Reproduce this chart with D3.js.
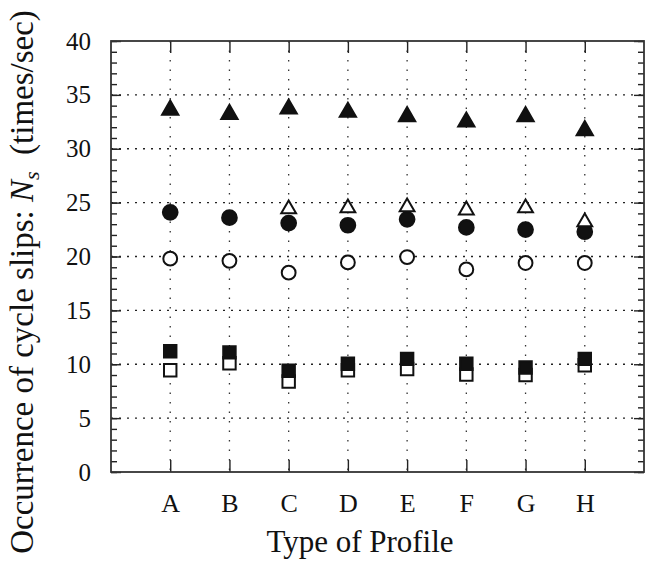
<!DOCTYPE html>
<html>
<head>
<meta charset="utf-8">
<script src="https://cdn.jsdelivr.net/npm/d3@7"></script>
<style>
  body { margin: 0; background: #fff; }
  svg { display: block; }
</style>
</head>
<body>
<div id="chart"></div>
<script>
// profiles along the x axis
const profiles = ["A", "B", "C", "D", "E", "F", "G", "H"];
const yTicks = [0, 5, 10, 15, 20, 25, 30, 35, 40];

// series (times/sec)
const filledTriangle = [33.6, 33.2, 33.7, 33.4, 33.0, 32.5, 33.0, 31.7];
const openTriangle   = [null, null, 24.4, 24.5, 24.6, 24.3, 24.5, 23.2];
const filledCircle   = [24.1, 23.6, 23.1, 22.9, 23.45, 22.7, 22.5, 22.3];
const openCircle     = [19.8, 19.6, 18.5, 19.45, 19.95, 18.8, 19.4, 19.4];
const openSquare     = [9.45, 10.1, 8.4, 9.45, 9.55, 9.05, 9.0, 9.9];
const filledSquare   = [11.2, 11.1, 9.4, 10.05, 10.5, 10.05, 9.7, 10.5];

const SERIF = "Liberation Serif";
const W = 648, H = 575;
const margin = { top: 41, right: 4, bottom: 103, left: 111 };
const width = W - margin.left - margin.right;
const height = H - margin.top - margin.bottom;

const svg = d3.select("#chart").append("svg")
  .attr("width", W)
  .attr("height", H)
  .attr("font-family", SERIF);

const chart = svg.append("g")
  .attr("transform", `translate(${margin.left}, ${margin.top})`);

// profile i sits at i+1 on a 0..9 scale
const xScale = d3.scaleLinear().domain([0, profiles.length + 1]).range([0, width]);
const yScale = d3.scaleLinear().domain([0, 40]).range([height, 0]);
const xPos = (i) => xScale(i + 1);

// dotted grid
chart.append("g").selectAll("line.hgrid")
  .data(yTicks.filter(d => d > 0 && d < 40))
  .enter().append("line")
    .attr("x1", 0).attr("x2", width)
    .attr("y1", d => yScale(d)).attr("y2", d => yScale(d))
    .style("stroke", "#222")
    .style("stroke-width", 1.3)
    .style("stroke-dasharray", "2,6");

chart.append("g").selectAll("line.vgrid")
  .data(profiles)
  .enter().append("line")
    .attr("x1", (d, i) => xPos(i)).attr("x2", (d, i) => xPos(i))
    .attr("y1", 0).attr("y2", height)
    .style("stroke", "#333")
    .style("stroke-width", 1.3)
    .style("stroke-dasharray", "1.5,8");

// y axes, ticks pointing inward, minor every 1
const minor = d3.range(0, 41, 1);
const yLeft = chart.append("g")
  .call(d3.axisRight(yScale).tickValues(minor).tickSize(6).tickFormat(""));
const yLeftMajor = chart.append("g")
  .call(d3.axisRight(yScale).tickValues(yTicks).tickSize(10).tickFormat(""));
const yRight = chart.append("g")
  .attr("transform", `translate(${width}, 0)`)
  .call(d3.axisLeft(yScale).tickValues(minor).tickSize(6).tickFormat(""));
const yRightMajor = chart.append("g")
  .attr("transform", `translate(${width}, 0)`)
  .call(d3.axisLeft(yScale).tickValues(yTicks).tickSize(10).tickFormat(""));

// y labels outside
const yLabels = chart.append("g")
  .call(d3.axisLeft(yScale).tickValues(yTicks).tickSize(0).tickPadding(20));
yLabels.attr("font-family", SERIF).attr("font-size", 25);
yLabels.selectAll("text").attr("fill", "#111");
yLabels.select(".domain").remove();

// x axes, ticks inward at top and bottom
const xIdx = profiles.map((d, i) => i + 1);
const xBottom = chart.append("g")
  .attr("transform", `translate(0, ${height})`)
  .call(d3.axisTop(xScale).tickValues(xIdx).tickSize(12).tickFormat(""));
const xTop = chart.append("g")
  .call(d3.axisBottom(xScale).tickValues(xIdx).tickSize(12).tickFormat(""));
const xLabels = chart.append("g")
  .attr("transform", `translate(0, ${height})`)
  .call(d3.axisBottom(xScale).tickValues(xIdx).tickSize(0).tickPadding(22)
    .tickFormat(d => profiles[d - 1]));
xLabels.attr("font-family", SERIF).attr("font-size", 26);
xLabels.selectAll("text").attr("fill", "#111");
xLabels.select(".domain").remove();

[yLeft, yLeftMajor, yRight, yRightMajor, xBottom, xTop].forEach(a => {
  a.selectAll("line").style("stroke", "#222").style("stroke-width", 1.4);
  a.select(".domain").remove();
});

// frame
chart.append("rect")
  .attr("width", width).attr("height", height)
  .style("fill", "none")
  .style("stroke", "#333")
  .style("stroke-width", 1.8);

// markers
const series = [
  { values: openSquare,     shape: d3.symbolSquare,   fill: "#fff", size: 155 },
  { values: filledSquare,   shape: d3.symbolSquare,   fill: "#111", size: 155 },
  { values: openCircle,     shape: d3.symbolCircle,   fill: "#fff", size: 150 },
  { values: filledCircle,   shape: d3.symbolCircle,   fill: "#111", size: 170 },
  { values: openTriangle,   shape: d3.symbolTriangle, fill: "#fff", size: 95 },
  { values: filledTriangle, shape: d3.symbolTriangle, fill: "#111", size: 115 }
];

series.forEach(s => {
  chart.append("g").selectAll("path")
    .data(s.values.map((v, i) => ({ i: i, v: v })).filter(d => d.v != null))
    .enter().append("path")
      .attr("d", d3.symbol().type(s.shape).size(s.size))
      .attr("transform", d => `translate(${xPos(d.i)}, ${yScale(d.v)})`)
      .style("fill", s.fill)
      .style("stroke", "#111")
      .style("stroke-width", 2);
});

// axis titles
svg.append("text")
  .attr("x", 360)
  .attr("y", 552)
  .attr("text-anchor", "middle")
  .attr("font-size", 31)
  .attr("fill", "#111")
  .text("Type of Profile");

const yTitle = svg.append("text")
  .attr("transform", "translate(33, 282) rotate(-90)")
  .attr("text-anchor", "middle")
  .attr("font-size", 33)
  .attr("fill", "#111");
yTitle.append("tspan").text("Occurrence of cycle slips:\u00a0");
yTitle.append("tspan").attr("font-style", "italic").text("N");
yTitle.append("tspan").attr("font-style", "italic").attr("font-size", 22).attr("dy", 6).text("s");
yTitle.append("tspan").attr("dy", -6).text("\u00a0\u00a0(times/sec)");
</script>
</body>
</html>
